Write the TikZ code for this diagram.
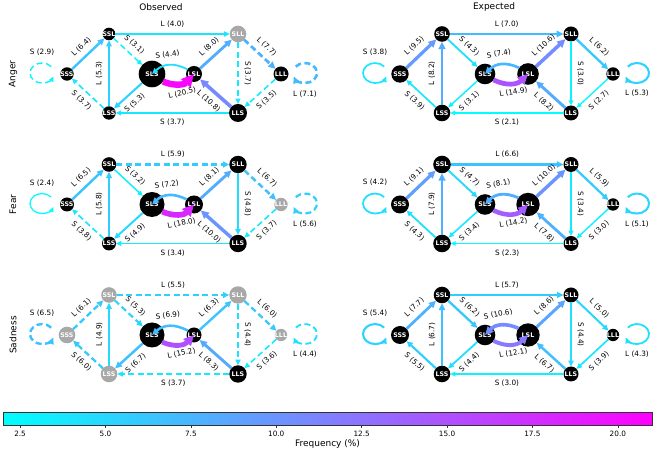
\documentclass[tikz,border=0pt]{standalone}
\usepackage{fontspec}
\setmainfont{DejaVu Sans}
\usetikzlibrary{arrows.meta}
\definecolor{coolA}{rgb}{0.00,1.00,1.00}
\definecolor{coolB}{rgb}{1.00,0.00,1.00}
\definecolor{nodegrey}{rgb}{0.66,0.66,0.66}
\definecolor{barframe}{rgb}{0.20,0.20,0.20}
\newcommand*{\labfont}{\fontsize{7.3}{8}\selectfont}
\newcommand*{\statefont}{\fontsize{6.3}{7}\selectfont\bfseries}
\newcommand*{\headfont}{\fontsize{9}{10}\selectfont}
\tikzset{
  state/.style={circle, fill=black, text=white, font=\statefont, inner sep=0pt, outer sep=0pt},
  edge/.style={-{Triangle[length=3pt 1.5, width=2.5pt 1.5]}},
  broken/.style={dash pattern=on 6pt off 3.5pt},
  pair/.style={bend right=35, looseness=1.1},
  lab/.style={font=\labfont, inner xsep=0.5pt},
  lab above/.style={above, inner ysep=5.5pt},
  lab below/.style={below, inner ysep=5.5pt},
  pair above/.style={above, inner ysep=6.5pt},
  pair below/.style={below, inner ysep=3.5pt},
}
% colour and width from the frequency
\newcommand*{\settone}[1]{\pgfmathsetmacro{\tpct}{(#1-2)/19*100}\pgfmathsetmacro{\twid}{0.6+0.28*#1}}
\newcommand*{\mkstate}[4][black]{\node[state, fill=#1, minimum size=#3pt] (#2) at (#4) {\makebox[0pt]{#2}};}
\newcommand*{\mktrans}[6][]{\settone{#4}%
  \draw[edge, draw=coolB!\tpct!coolA, line width=\twid pt, #1] (#2) to node[lab, sloped, #6] {#5 (#4)} (#3);}
\newcommand*{\loopW}[4][]{\settone{#3}%
  \draw[edge, draw=coolB!\tpct!coolA, line width=\twid pt, #1] ([shift={(-15.8,7.4)}]#2.center)
    arc[start angle=40, end angle=90, x radius=12, y radius=10] node[lab, above=3.5pt] {#4 (#3)}
    arc[start angle=90, end angle=340, x radius=12, y radius=10];}
\newcommand*{\loopE}[4][]{\settone{#3}%
  \draw[edge, draw=coolB!\tpct!coolA, line width=\twid pt, #1] ([shift={(14.8,7.4)}]#2.center)
    arc[start angle=140, end angle=-90, x radius=12, y radius=10] node[lab, below=3pt] {#4 (#3)}
    arc[start angle=270, end angle=200, x radius=12, y radius=10];}

\begin{document}
\begin{tikzpicture}[x=1pt, y=1pt]
  \useasboundingbox (0,0) rectangle (656,452);

  % Anger, observed
  \begin{scope}[shift={(67,378)}, name prefix=oa-]
    \node[font=\headfont] (title) at (94,67) {Observed};
    \node[font=\headfont, rotate=90] (row) at (-54,0) {Anger};
    \mkstate{SSS}{13.4}{0,0}
    \mkstate{SSL}{12.6}{42,40}
    \mkstate{LSS}{13.4}{42,-39}
    \mkstate{SLS}{26.6}{85,0}
    \mkstate{LSL}{16}{127,0}
    \mkstate[nodegrey]{SLL}{16.6}{171,40}
    \mkstate{LLS}{18}{171,-39}
    \mkstate{LLL}{15}{214,0}
    \loopW[broken]{SSS}{2.9}{S}
    \mktrans{SSS}{SSL}{6.4}{L}{lab above}
    \mktrans{SSL}{SLL}{4.0}{L}{lab above}
    \mktrans[broken]{SSL}{SLS}{3.1}{S}{lab above}
    \mktrans[pair]{LSL}{SLS}{4.4}{S}{pair above}
    \mktrans[pair]{SLS}{LSL}{20.5}{L}{pair below}
    \mktrans{LSL}{SLL}{8.0}{L}{lab above}
    \mktrans[broken]{SLL}{LLL}{7.7}{L}{lab above}
    \mktrans[broken]{SLL}{LLS}{3.7}{S}{lab above}
    \loopE[broken]{LLL}{7.1}{L}
    \mktrans[broken]{LLL}{LLS}{3.5}{S}{lab below}
    \mktrans{LLS}{LSL}{10.8}{L}{lab below}
    \mktrans{LLS}{LSS}{3.7}{S}{lab below}
    \mktrans{SLS}{LSS}{5.3}{S}{lab below}
    \mktrans[broken]{LSS}{SSS}{3.7}{S}{lab below}
    \mktrans{LSS}{SSL}{5.3}{L}{lab above}
  \end{scope}

  % Anger, expected
  \begin{scope}[shift={(400,378)}, name prefix=ea-]
    \node[font=\headfont] (title) at (94,67) {Expected};
    \mkstate{SSS}{17.4}{0,0}
    \mkstate{SSL}{15.6}{42,40}
    \mkstate{LSS}{16.6}{42,-39}
    \mkstate{SLS}{20.6}{85,0}
    \mkstate{LSL}{21.6}{128,0}
    \mkstate{SLL}{15}{171,40}
    \mkstate{LLS}{15}{171,-39}
    \mkstate{LLL}{13.4}{213,0}
    \loopW{SSS}{3.8}{S}
    \mktrans{SSS}{SSL}{9.5}{L}{lab above}
    \mktrans{SSL}{SLL}{7.0}{L}{lab above}
    \mktrans{SSL}{SLS}{4.3}{S}{lab above}
    \mktrans[pair]{LSL}{SLS}{7.4}{S}{pair above}
    \mktrans[pair]{SLS}{LSL}{14.9}{L}{pair below}
    \mktrans{LSL}{SLL}{10.6}{L}{lab above}
    \mktrans{SLL}{LLL}{6.2}{L}{lab above}
    \mktrans{SLL}{LLS}{3.0}{S}{lab above}
    \loopE{LLL}{5.3}{L}
    \mktrans{LLL}{LLS}{2.7}{S}{lab below}
    \mktrans{LLS}{LSL}{8.2}{L}{lab below}
    \mktrans{LLS}{LSS}{2.1}{S}{lab below}
    \mktrans{SLS}{LSS}{3.1}{S}{lab below}
    \mktrans{LSS}{SSS}{3.9}{S}{lab below}
    \mktrans{LSS}{SSL}{8.2}{L}{lab above}
  \end{scope}

  % Fear, observed
  \begin{scope}[shift={(67,247.5)}, name prefix=of-]
    \node[font=\headfont, rotate=90] (row) at (-54,0) {Fear};
    \mkstate{SSS}{14}{0,0}
    \mkstate{SSL}{14.6}{42,40}
    \mkstate{LSS}{14}{42,-39}
    \mkstate{SLS}{25}{85,0}
    \mkstate{LSL}{18}{127,0}
    \mkstate{SLL}{17.4}{171,40}
    \mkstate{LLS}{17.4}{171,-39}
    \mkstate[nodegrey]{LLL}{13.4}{214,0}
    \loopW{SSS}{2.4}{S}
    \mktrans{SSS}{SSL}{6.5}{L}{lab above}
    \mktrans[broken]{SSL}{SLL}{5.9}{L}{lab above}
    \mktrans{SSL}{SLS}{3.2}{S}{lab above}
    \mktrans[pair]{LSL}{SLS}{7.2}{S}{pair above}
    \mktrans[pair]{SLS}{LSL}{18.0}{L}{pair below}
    \mktrans{LSL}{SLL}{8.1}{L}{lab above}
    \mktrans[broken]{SLL}{LLL}{6.7}{L}{lab above}
    \mktrans{SLL}{LLS}{4.8}{S}{lab above}
    \loopE[broken]{LLL}{5.6}{L}
    \mktrans[broken]{LLL}{LLS}{3.7}{S}{lab below}
    \mktrans{LLS}{LSL}{10.0}{L}{lab below}
    \mktrans{LLS}{LSS}{3.4}{S}{lab below}
    \mktrans{SLS}{LSS}{4.9}{S}{lab below}
    \mktrans[broken]{LSS}{SSS}{3.8}{S}{lab below}
    \mktrans{LSS}{SSL}{5.8}{L}{lab above}
  \end{scope}

  % Fear, expected
  \begin{scope}[shift={(400,247.5)}, name prefix=ef-]
    \mkstate{SSS}{18}{0,0}
    \mkstate{SSL}{17.6}{42,40}
    \mkstate{LSS}{17.6}{42,-39}
    \mkstate{SLS}{20.6}{85,0}
    \mkstate{LSL}{23.4}{128,0}
    \mkstate{SLL}{15}{171,40}
    \mkstate{LLS}{15}{171,-39}
    \mkstate{LLL}{12.4}{213,0}
    \loopW{SSS}{4.2}{S}
    \mktrans{SSS}{SSL}{9.1}{L}{lab above}
    \mktrans{SSL}{SLL}{6.6}{L}{lab above}
    \mktrans{SSL}{SLS}{4.7}{S}{lab above}
    \mktrans[pair]{LSL}{SLS}{8.1}{S}{pair above}
    \mktrans[pair]{SLS}{LSL}{14.2}{L}{pair below}
    \mktrans{LSL}{SLL}{10.0}{L}{lab above}
    \mktrans{SLL}{LLL}{5.9}{L}{lab above}
    \mktrans{SLL}{LLS}{3.4}{S}{lab above}
    \loopE{LLL}{5.1}{L}
    \mktrans{LLL}{LLS}{3.0}{S}{lab below}
    \mktrans{LLS}{LSL}{7.8}{L}{lab below}
    \mktrans{LLS}{LSS}{2.3}{S}{lab below}
    \mktrans{SLS}{LSS}{3.4}{S}{lab below}
    \mktrans{LSS}{SSS}{4.3}{S}{lab below}
    \mktrans{LSS}{SSL}{7.9}{L}{lab above}
  \end{scope}

  % Sadness, observed
  \begin{scope}[shift={(67,117)}, name prefix=os-]
    \node[font=\headfont, rotate=90] (row) at (-54,0) {Sadness};
    \mkstate[nodegrey]{SSS}{16.6}{0,0}
    \mkstate[nodegrey]{SSL}{15.6}{42,40}
    \mkstate[nodegrey]{LSS}{16.6}{42,-39}
    \mkstate{SLS}{25}{85,0}
    \mkstate{LSL}{15}{127,0}
    \mkstate[nodegrey]{SLL}{17.4}{171,40}
    \mkstate{LLS}{17.4}{171,-39}
    \mkstate[nodegrey]{LLL}{12.4}{214,0}
    \loopW[broken]{SSS}{6.5}{S}
    \mktrans[broken]{SSS}{SSL}{6.1}{L}{lab above}
    \mktrans[broken]{SSL}{SLL}{5.5}{L}{lab above}
    \mktrans[broken]{SSL}{SLS}{5.3}{S}{lab above}
    \mktrans[pair]{LSL}{SLS}{6.9}{S}{pair above}
    \mktrans[pair]{SLS}{LSL}{15.2}{L}{pair below}
    \mktrans{LSL}{SLL}{6.3}{L}{lab above}
    \mktrans[broken]{SLL}{LLL}{6.0}{L}{lab above}
    \mktrans[broken]{SLL}{LLS}{4.4}{S}{lab above}
    \loopE[broken]{LLL}{4.4}{L}
    \mktrans[broken]{LLL}{LLS}{3.6}{S}{lab below}
    \mktrans{LLS}{LSL}{8.3}{L}{lab below}
    \mktrans[broken]{LLS}{LSS}{3.7}{S}{lab below}
    \mktrans{SLS}{LSS}{6.7}{S}{lab below}
    \mktrans[broken]{LSS}{SSS}{6.0}{S}{lab below}
    \mktrans{LSS}{SSL}{4.9}{L}{lab above}
  \end{scope}

  % Sadness, expected
  \begin{scope}[shift={(400,117)}, name prefix=es-]
    \mkstate{SSS}{18}{0,0}
    \mkstate{SSL}{16.6}{42,40}
    \mkstate{LSS}{16.6}{42,-39}
    \mkstate{SLS}{20.6}{85,0}
    \mkstate{LSL}{23.4}{128,0}
    \mkstate{SLL}{15}{171,40}
    \mkstate{LLS}{15}{171,-39}
    \mkstate{LLL}{12.4}{213,0}
    \loopW{SSS}{5.4}{S}
    \mktrans{SSS}{SSL}{7.7}{L}{lab above}
    \mktrans{SSL}{SLL}{5.7}{L}{lab above}
    \mktrans{SSL}{SLS}{6.2}{S}{lab above}
    \mktrans[pair]{LSL}{SLS}{10.6}{S}{pair above}
    \mktrans[pair]{SLS}{LSL}{12.1}{L}{pair below}
    \mktrans{LSL}{SLL}{8.6}{L}{lab above}
    \mktrans{SLL}{LLL}{5.0}{L}{lab above}
    \mktrans{SLL}{LLS}{4.4}{S}{lab above}
    \loopE{LLL}{4.3}{L}
    \mktrans{LLL}{LLS}{3.9}{S}{lab below}
    \mktrans{LLS}{LSL}{6.7}{L}{lab below}
    \mktrans{LLS}{LSS}{3.0}{S}{lab below}
    \mktrans{SLS}{LSS}{4.4}{S}{lab below}
    \mktrans{LSS}{SSS}{5.5}{S}{lab below}
    \mktrans{LSS}{SSL}{6.7}{L}{lab above}
  \end{scope}

  % colour bar
  \shade[left color=coolA, right color=coolB] (3,26.7) rectangle (652,39.3);
  \draw[barframe, line width=0.6pt] (3,26.7) rectangle (652,39.3);
  \foreach \v in {2.5,5.0,7.5,10.0,12.5,15.0,17.5,20.0}
    \draw[barframe, line width=0.5pt] ({3+(\v-2)*34.158},26.7) -- ++(0,-2.5) node[lab, below=0pt, black] {\v};
  \node[font=\headfont] (barlabel) at (327.5,7.5) {Frequency (\%)};
\end{tikzpicture}
\end{document}
